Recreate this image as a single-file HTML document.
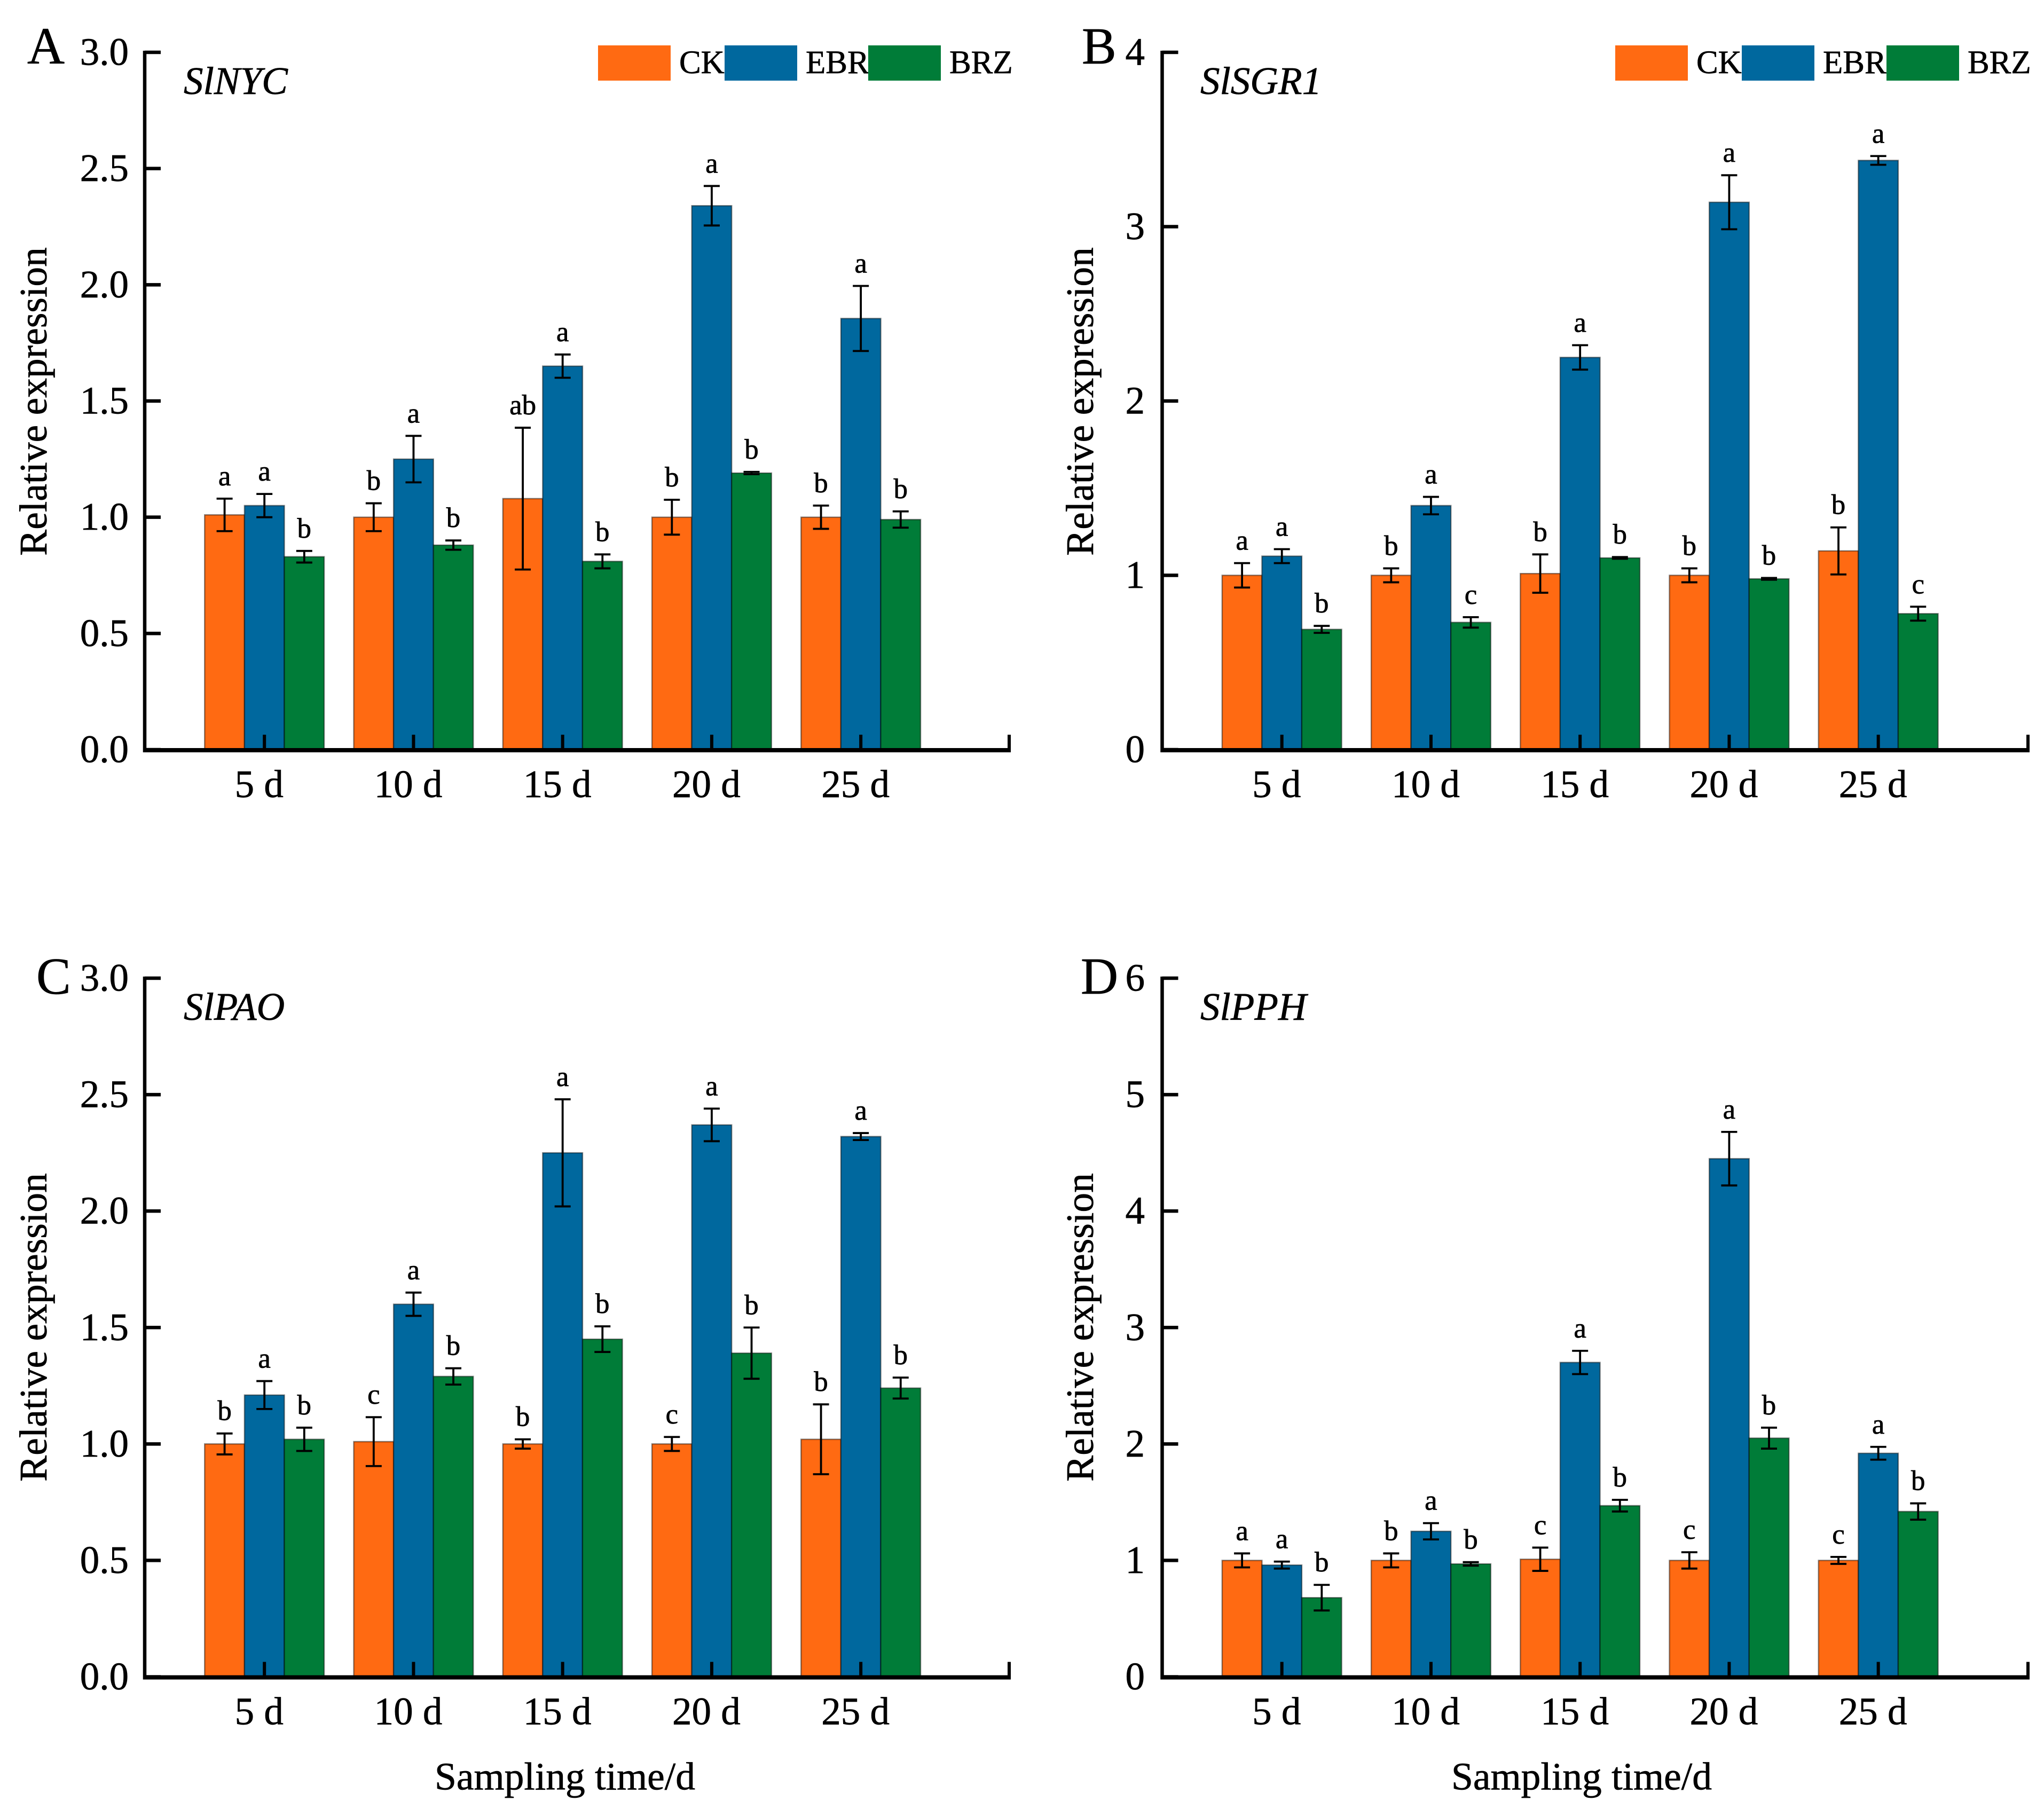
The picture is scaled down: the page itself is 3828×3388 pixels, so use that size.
<!DOCTYPE html>
<html lang="en">
<head>
<meta charset="utf-8">
<title>Relative expression of chlorophyll degradation genes</title>
<style>
html,body{margin:0;padding:0;background:#fff;}
svg{display:block;}
text{font-family:"Liberation Serif","Times New Roman",serif;fill:#000;stroke:#000;stroke-width:0.7px;}
</style>
</head>
<body>
<svg id="figure" xmlns="http://www.w3.org/2000/svg" width="3828" height="3388" viewBox="0 0 3828 3388"></svg>
<script>
const categories = ['5 d','10 d','15 d','20 d','25 d'];
const seriesNames = ['CK','EBR','BRZ'];

const nycCK  = [1.01,1.00,1.08,1.00,1.00];
const nycEBR = [1.05,1.25,1.65,2.34,1.855];
const nycBRZ = [0.83,0.88,0.81,1.19,0.99];
const nycCKErr  = [0.07,0.06,0.305,0.075,0.05];
const nycEBRErr = [0.05,0.10,0.05,0.085,0.14];
const nycBRZErr = [0.025,0.02,0.03,0.005,0.035];
const nycCKSig  = ['a','b','ab','b','b'];
const nycEBRSig = ['a','a','a','a','a'];
const nycBRZSig = ['b','b','b','b','b'];
const nycTicks  = ['0.0','0.5','1.0','1.5','2.0','2.5','3.0'];

const sgrCK  = [1.00,1.00,1.01,1.00,1.14];
const sgrEBR = [1.11,1.40,2.25,3.14,3.38];
const sgrBRZ = [0.69,0.73,1.10,0.98,0.78];
const sgrCKErr  = [0.07,0.04,0.11,0.04,0.135];
const sgrEBRErr = [0.04,0.05,0.07,0.155,0.025];
const sgrBRZErr = [0.02,0.03,0.005,0.005,0.04];
const sgrCKSig  = ['a','b','b','b','b'];
const sgrEBRSig = ['a','a','a','a','a'];
const sgrBRZSig = ['b','c','b','b','c'];
const sgrTicks  = ['0','1','2','3','4'];

const paoCK  = [1.00,1.01,1.00,1.00,1.02];
const paoEBR = [1.21,1.60,2.25,2.37,2.32];
const paoBRZ = [1.02,1.29,1.45,1.39,1.24];
const paoCKErr  = [0.045,0.105,0.02,0.03,0.15];
const paoEBRErr = [0.06,0.05,0.23,0.07,0.015];
const paoBRZErr = [0.05,0.035,0.055,0.11,0.045];
const paoCKSig  = ['b','c','b','c','b'];
const paoEBRSig = ['a','a','a','a','a'];
const paoBRZSig = ['b','b','b','b','b'];
const paoTicks  = ['0.0','0.5','1.0','1.5','2.0','2.5','3.0'];

const pphCK  = [1.00,1.00,1.01,1.00,1.00];
const pphEBR = [0.96,1.25,2.70,4.45,1.92];
const pphBRZ = [0.68,0.97,1.47,2.05,1.42];
const pphCKErr  = [0.06,0.06,0.10,0.07,0.03];
const pphEBRErr = [0.03,0.07,0.10,0.23,0.055];
const pphBRZErr = [0.11,0.015,0.05,0.09,0.07];
const pphCKSig  = ['a','b','c','c','c'];
const pphEBRSig = ['a','a','a','a','a'];
const pphBRZSig = ['b','b','b','b','b'];
const pphTicks  = ['0','1','2','3','4','5','6'];

const NS = 'http://www.w3.org/2000/svg';
const figure = document.getElementById('figure');
const seriesColors = ['#FF6A12','#00689E','#007C38'];

function node(tag, attrs, parent) {
  const el = document.createElementNS(NS, tag);
  for (const k in attrs) el.setAttribute(k, attrs[k]);
  parent.appendChild(el);
  return el;
}
function label(str, x, y, size, anchor, style, parent) {
  const el = node('text', {x: x, y: y, 'font-size': size, 'text-anchor': anchor, 'font-style': style}, parent);
  el.textContent = str;
  return el;
}

function drawPanel(p) {
  const g = node('g', {}, figure);
  
  

  const yMax = parseFloat(p.ticks[p.ticks.length - 1]);
  const yScale = v => p.y0 - v / yMax * (p.y0 - p.yTop);
  const barW = 74.6, groupStep = 279.24;
  const xBar = (gi, si) => p.firstBar + gi * groupStep + si * barW;

  // bars, then error bars and letters
  [0,1,2].forEach(si => {
    categories.forEach((cat, gi) => {
      const v = p.values[si][gi];
      const bar = node('rect', {x: xBar(gi, si), y: yScale(v), width: barW, height: p.y0 - yScale(v), fill: seriesColors[si], stroke: 'rgba(0,0,0,0.45)', 'stroke-width': 2.5}, g);
      
      
    });
  });
  [0,1,2].forEach(si => {
    categories.forEach((cat, gi) => {
      const v = p.values[si][gi], e = p.errors[si][gi];
      const cx = xBar(gi, si) + barW / 2;
      const top = yScale(v + e), bot = yScale(v - e);
      const err = node('path', {d: 'M' + (cx - 15) + ' ' + top + 'H' + (cx + 15) + 'M' + cx + ' ' + top + 'V' + bot + 'M' + (cx - 15) + ' ' + bot + 'H' + (cx + 15), fill: 'none', stroke: '#000', 'stroke-width': 3.8}, g);
      
      
      const sig = label(p.letters[si][gi], cx, top - 25, 53, 'middle', 'normal', g);
      
      
    });
  });

  // y axis
  const yAxis = node('line', {x1: p.x0, y1: p.yTop - 3, x2: p.x0, y2: p.y0 + 5, stroke: '#000', 'stroke-width': 6.5}, g);
  
  
  p.ticks.forEach(t => {
    const ty = yScale(parseFloat(t));
    const tick = node('line', {x1: p.x0, y1: ty, x2: p.x0 + 30, y2: ty, stroke: '#000', 'stroke-width': 6.5}, g);
    
    
    const tl = label(t, p.tickRight, ty + 23.5, 73, 'end', 'normal', g);
    
    
  });

  // x axis
  const xAxis = node('line', {x1: p.x0, y1: p.y0 + 1, x2: p.xEnd, y2: p.y0 + 1, stroke: '#000', 'stroke-width': 8}, g);
  
  
  const endTick = node('line', {x1: p.xEnd - 3, y1: p.y0, x2: p.xEnd - 3, y2: p.y0 - 28, stroke: '#000', 'stroke-width': 6}, g);
  
  
  categories.forEach((cat, gi) => {
    const cx = xBar(gi, 1) + barW / 2;
    const tick = node('line', {x1: cx, y1: p.y0, x2: cx, y2: p.y0 - 28, stroke: '#000', 'stroke-width': 6}, g);
    
    
    const cl = label(cat, cx - 10, p.y0 + 89, 73, 'middle', 'normal', g);
    
    
  });

  // titles
  const yt = label('Relative expression', 0, 0, 73.5, 'middle', 'normal', g);
  yt.setAttribute('transform', 'translate(' + p.yTitleX + ' ' + (p.yTop + 654) + ') rotate(-90)');
  
  

  const gene = label(p.gene, p.geneX, p.yTop + 78, 73, 'start', 'italic', g);
  
  

  const letter = label(p.key.toUpperCase(), p.letterX, p.letterY, 97, 'start', 'normal', g);
  
  

  if (p.samplingX) {
    const xt = label('Sampling time/d', p.samplingX, p.y0 + 211, 73.5, 'middle', 'normal', g);
    
    
  }

  if (p.legend) {
    const lg = node('g', {}, g);
    
    
    seriesNames.forEach((name, si) => {
      const sw = node('rect', {x: p.legend[si], y: 85, width: 136, height: 66, fill: seriesColors[si]}, lg);
      
      
      const lt = label(name, p.legend[si] + 152, 137, 61, 'start', 'normal', lg);
      
      
    });
  }
}

drawPanel({key:'a', gene:'SlNYC', ticks:nycTicks, values:[nycCK,nycEBR,nycBRZ], errors:[nycCKErr,nycEBRErr,nycBRZErr], letters:[nycCKSig,nycEBRSig,nycBRZSig],
  x0:271, xEnd:1893, yTop:98, y0:1404, firstBar:383.3, tickRight:241, yTitleX:87, geneX:344, letterX:51, letterY:119, legend:[1120,1357,1626]});
drawPanel({key:'b', gene:'SlSGR1', ticks:sgrTicks, values:[sgrCK,sgrEBR,sgrBRZ], errors:[sgrCKErr,sgrEBRErr,sgrBRZErr], letters:[sgrCKSig,sgrEBRSig,sgrBRZSig],
  x0:2176.5, xEnd:3801, yTop:98, y0:1404, firstBar:2288.8, tickRight:2144, yTitleX:2047, geneX:2248, letterX:2026, letterY:119, legend:[3025,3262,3533]});
drawPanel({key:'c', gene:'SlPAO', ticks:paoTicks, values:[paoCK,paoEBR,paoBRZ], errors:[paoCKErr,paoEBRErr,paoBRZErr], letters:[paoCKSig,paoEBRSig,paoBRZSig],
  x0:271, xEnd:1893, yTop:1832, y0:3140.5, firstBar:383.3, tickRight:241, yTitleX:87, geneX:344, letterX:68, letterY:1861, samplingX:1058});
drawPanel({key:'d', gene:'SlPPH', ticks:pphTicks, values:[pphCK,pphEBR,pphBRZ], errors:[pphCKErr,pphEBRErr,pphBRZErr], letters:[pphCKSig,pphEBRSig,pphBRZSig],
  x0:2176.5, xEnd:3801, yTop:1832, y0:3140.5, firstBar:2288.8, tickRight:2144, yTitleX:2047, geneX:2248, letterX:2024, letterY:1861, samplingX:2962});
</script>
</body>
</html>
